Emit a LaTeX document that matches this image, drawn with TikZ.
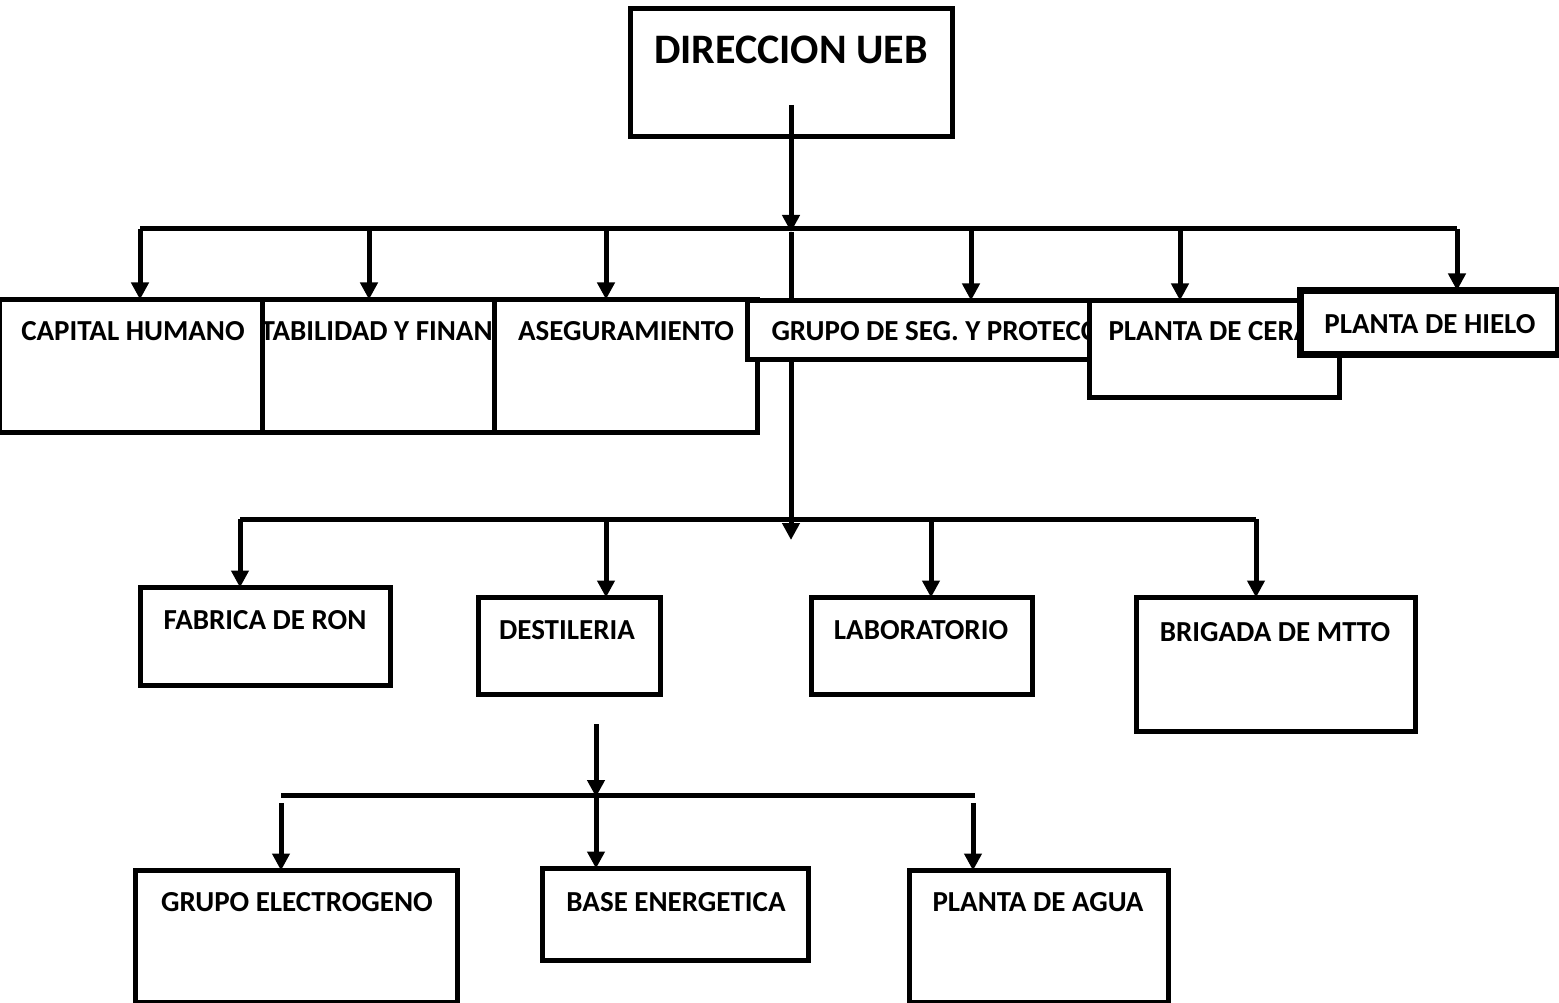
\documentclass[tikz,border=0pt]{standalone}
\usepackage{fontspec}
\setmainfont{Carlito}
\usetikzlibrary{arrows.meta}
\begin{document}
\begin{tikzpicture}[x=1pt,y=-1pt,
  line width=5pt,
  box/.style={draw=black, line width=5pt, fill=white},
  lbl/.style={font=\bfseries\fontsize{29}{31}\selectfont, inner sep=0pt},
  biglbl/.style={font=\bfseries\fontsize{42}{44}\selectfont, inner sep=0pt},
  arr/.style={-{Triangle[length=17pt,width=17pt]}, line width=5pt},
  plain/.style={line width=5pt},
  frame/.style={draw=none, inner sep=0pt}
]
\useasboundingbox (0,0) rectangle (1559,1003);

% ---------- bus coordinates ----------
\coordinate (srcA) at (791,105);
\coordinate (busA) at (791,232);
\coordinate (busAL) at (140,229);
\coordinate (busAR) at (1457,229);
\coordinate (dCont) at (369,229);
\coordinate (dAseg) at (606,229);
\coordinate (dGrupo) at (971,229);
\coordinate (dCera) at (1180,229);
\coordinate (busBL) at (240,519);
\coordinate (busBR) at (1256,519);
\coordinate (dDest) at (606,519);
\coordinate (dLab) at (931,519);
\coordinate (endB) at (791,540);
\coordinate (srcC) at (596,724);
\coordinate (busC) at (596,795);
\coordinate (tipC) at (596,797);
\coordinate (busCL) at (281,795);
\coordinate (busCR) at (975,795);
\coordinate (dropCL) at (281,803);
\coordinate (dropCR) at (973,803);

% ---------- box frames (named) ----------
\node[frame, minimum width=317pt, minimum height=123pt] (dir) at (791.5,72.5) {};
\node[frame, minimum width=263pt, minimum height=128pt] (cap) at (133.5,366) {};
\node[frame, minimum width=232pt, minimum height=128pt] (cont) at (381,366) {};
\node[frame, minimum width=258pt, minimum height=128pt] (aseg) at (626,366) {};
\node[frame, minimum width=350pt, minimum height=54pt] (grupo) at (925,330) {};
\node[frame, minimum width=245pt, minimum height=92pt] (cera) at (1214.5,349) {};
\node[frame, minimum width=253pt, minimum height=59pt] (hielo) at (1429.5,322.5) {};
\node[frame, minimum width=245pt, minimum height=93pt] (ron) at (265.5,636.5) {};
\node[frame, minimum width=177pt, minimum height=92pt] (dest) at (569.5,646) {};
\node[frame, minimum width=216pt, minimum height=92pt] (lab) at (922,646) {};
\node[frame, minimum width=274pt, minimum height=129pt] (brig) at (1276,664.5) {};
\node[frame, minimum width=317pt, minimum height=127pt] (elec) at (296.5,936.5) {};
\node[frame, minimum width=261pt, minimum height=87pt] (base) at (675.5,914.5) {};
\node[frame, minimum width=254pt, minimum height=127pt] (agua) at (1039,936.5) {};

% ---------- connectors (behind the boxes) ----------
% level 1
\draw[arr] (srcA) -- (busA);
\draw[plain] (busA) -- (busA |- grupo.north);
\draw[plain] (busAL) -- (busAR);
\draw[arr] (busAL) -- (busAL |- cap.north);
\draw[arr] (dCont) -- (dCont |- cont.north);
\draw[arr] (dAseg) -- (dAseg |- aseg.north);
\draw[arr] (dGrupo) -- (dGrupo |- grupo.north);
\draw[arr] (dCera) -- (dCera |- cera.north);
\draw[arr] (busAR) -- (busAR |- hielo.north);
% level 2
\draw[arr] (busA |- grupo.south) -- (endB);
\draw[plain] (busBL) -- (busBR);
\draw[arr] (busBL) -- (busBL |- ron.north);
\draw[arr] (dDest) -- (dDest |- dest.north);
\draw[arr] (dLab) -- (dLab |- lab.north);
\draw[arr] (busBR) -- (busBR |- brig.north);
% level 3
\draw[arr] (srcC) -- (tipC);
\draw[arr] (busC) -- (busC |- base.north);
\draw[plain] (busCL) -- (busCR);
\draw[arr] (dropCL) -- (dropCL |- elec.north);
\draw[arr] (dropCR) -- (dropCR |- agua.north);

% ---------- boxes drawn ----------
\draw[line width=5pt] (dir.north west) rectangle (dir.south east);
\node[biglbl] at (791,50) {DIRECCION UEB};

\draw[box] (cap.north west) rectangle (cap.south east);
\node[lbl] at (133,331) {CAPITAL HUMANO};

\draw[box] (cont.north west) rectangle (cont.south east);
\begin{scope}
  \clip (cont.north west) rectangle (cont.south east);
  \node[lbl, anchor=west] at (258,331) {TABILIDAD Y FINAN};
\end{scope}
\draw[line width=5pt] (cont.north west) rectangle (cont.south east);

\draw[box] (aseg.north west) rectangle (aseg.south east);
\node[lbl] at (626,331) {ASEGURAMIENTO};

\draw[box] (grupo.north west) rectangle (grupo.south east);
\node[lbl, anchor=west] at (769,331) {GRUPO DE SEG. Y PROTECC};

\draw[box] (cera.north west) rectangle (cera.south east);
\node[lbl, anchor=west] at (1106,331) {PLANTA DE CERA};

\draw[box, line width=7pt] (hielo.north west) rectangle (hielo.south east);
\node[lbl] at (1430,324) {PLANTA DE HIELO};

\draw[box] (ron.north west) rectangle (ron.south east);
\node[lbl] at (265,620) {FABRICA DE RON};

\draw[box] (dest.north west) rectangle (dest.south east);
\node[lbl] at (567,630) {DESTILERIA};

\draw[box] (lab.north west) rectangle (lab.south east);
\node[lbl] at (921,630) {LABORATORIO};

\draw[box] (brig.north west) rectangle (brig.south east);
\node[lbl] at (1275,632) {BRIGADA DE MTTO};

\draw[box] (elec.north west) rectangle (elec.south east);
\node[lbl] at (297,902) {GRUPO ELECTROGENO};

\draw[box] (base.north west) rectangle (base.south east);
\node[lbl] at (676,902) {BASE ENERGETICA};

\draw[box] (agua.north west) rectangle (agua.south east);
\node[lbl] at (1038,902) {PLANTA DE AGUA};
\end{tikzpicture}
\end{document}
